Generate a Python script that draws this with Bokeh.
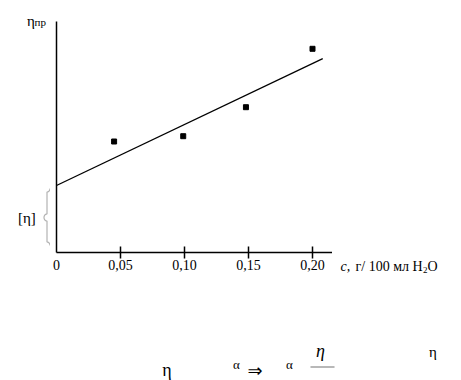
from bokeh.plotting import figure
from bokeh.models import Range1d, LinearAxis, FixedTicker, Label, PolyAnnotation
from bokeh.layouts import row, column
from bokeh.embed import file_html
from bokeh.resources import INLINE
import numpy as np

# ---- data ----
conc = [0.045, 0.099, 0.148, 0.200]        # c, g / 100 ml H2O
eta_red = [1.11, 1.163, 1.453, 2.037]      # reduced viscosity (arbitrary units)
tick_values = [0.0, 0.05, 0.10, 0.15, 0.20]
tick_labels = ["0", "0,05", "0,10", "0,15", "0,20"]
fit_intercept = 0.67                        # [eta]
fit_slope = 6.1
fit_c_end = 0.208

SERIF = "Liberation Serif"

# canvas geometry (pixels)
LW = 50          # left strip width
TOP_H = 280      # height of the upper row
FL, FT, FR, FB = 56, 21, 332, 252   # main frame edges on page
PX_X = 1280.0
PX_Y = 100.0
LBL_DY = -4.5    # text baseline correction


def bare(width, height, xr, yr):
    f = figure(width=width, height=height, output_backend="svg",
               toolbar_location=None, x_range=xr, y_range=yr,
               x_axis_type=None, y_axis_type=None,
               min_border_left=0, min_border_right=0,
               min_border_top=0, min_border_bottom=0)
    f.frame_align = False
    f.outline_line_color = None
    f.xgrid.visible = False
    f.ygrid.visible = False
    f.background_fill_color = "white"
    f.border_fill_color = "white"
    return f


def lab(f, text, x, y, size, align="left", style="normal", font=SERIF):
    f.add_layout(Label(x=x, y=y + LBL_DY, text=text, text_font=font,
                       text_font_size=f"{size}px", text_align=align,
                       text_baseline="alphabetic", text_font_style=style,
                       text_color="black"))


# ---------------- main plot ----------------
MW = FR - LW
p = figure(width=MW, height=TOP_H, output_backend="svg", toolbar_location=None,
           x_range=Range1d(0, (FR - FL) / PX_X),
           y_range=Range1d(0, (FB - FT) / PX_Y),
           x_axis_type=None, y_axis_type=None,
           min_border_left=FL - LW, min_border_top=FT,
           min_border_right=0, min_border_bottom=TOP_H - FB)
p.frame_align = False
p.outline_line_color = None
p.xgrid.visible = False
p.ygrid.visible = False
p.background_fill_color = "white"
p.border_fill_color = "white"

xaxis = LinearAxis(ticker=FixedTicker(ticks=tick_values, minor_ticks=tick_values[1:]),
                   major_label_overrides={v: l for v, l in zip(tick_values, tick_labels)})
xaxis.axis_line_width = 1.5
xaxis.axis_line_color = "black"
xaxis.major_tick_line_color = None
xaxis.major_tick_in = 0
xaxis.major_tick_out = 6
xaxis.minor_tick_in = 6
xaxis.minor_tick_out = 6
xaxis.minor_tick_line_width = 1.5
xaxis.minor_tick_line_color = "black"
xaxis.major_label_standoff = 1
xaxis.major_label_text_font = SERIF
xaxis.major_label_text_font_size = "14px"
xaxis.major_label_text_color = "black"
p.add_layout(xaxis, "below")

yaxis = LinearAxis(ticker=FixedTicker(ticks=[]))
yaxis.axis_line_width = 1.5
yaxis.axis_line_color = "black"
yaxis.major_tick_line_color = None
yaxis.minor_tick_line_color = None
yaxis.major_tick_in = 0
yaxis.major_tick_out = 0
yaxis.major_label_standoff = 0
yaxis.major_label_text_font_size = "0px"
p.add_layout(yaxis, "left")

p.line([0.0, fit_c_end], [fit_intercept, fit_intercept + fit_slope * fit_c_end],
       line_color="black", line_width=1.3)
p.scatter(conc, eta_red, marker="square", size=5, color="black")

# ---------------- left strip ----------------
L = bare(LW, TOP_H, Range1d(0, LW), Range1d(TOP_H, 0))
lab(L, "η", 26.5, 24.5, 15)
lab(L, "пр", 34, 25.5, 11)
lab(L, "[η]", 17.5, 222, 15)


def brace_path(xr, xm, xl, yt, ymid, yb, r=3.5, n=8):
    t = np.linspace(0, np.pi / 2, n)
    pts = [(xm + (xr - xm) * np.cos(a), yt + r * np.sin(a)) for a in t]
    pts.append((xm, ymid - r))
    pts += [(xm - (xm - xl) * np.sin(a), ymid - r * np.cos(a)) for a in t]
    pts += [(xm - (xm - xl) * np.sin(a), ymid + r * np.cos(a)) for a in t[::-1]]
    pts.append((xm, yb - r))
    pts += [(xm + (xr - xm) * np.cos(a), yb - r * np.sin(a)) for a in t[::-1]]
    return pts


bp = brace_path(49.5, 46.5, 43.5, 188, 217, 245)
bxs = [x for x, y in bp] + [x for x, y in bp[::-1]]
bys = [y for x, y in bp] + [y for x, y in bp[::-1]]
L.add_layout(PolyAnnotation(xs=bxs, ys=bys, fill_alpha=0, line_color="black",
                            line_width=1.2))

# ---------------- right strip (x axis title) ----------------
RW = 461 - FR
R = bare(RW, TOP_H, Range1d(FR, 461), Range1d(TOP_H, 0))
lab(R, "c,", 340, 270.5, 14, style="italic")
lab(R, "г/ 100 мл H", 355, 270.5, 14)
lab(R, "2", 422.5, 273.5, 9)
lab(R, "O", 427, 270.5, 14)

# ---------------- bottom strip (formula fragments) ----------------
B = bare(461, 380 - TOP_H, Range1d(0, 461), Range1d(380, TOP_H))
lab(B, "η", 166.5, 374, 18, align="center")
lab(B, "α", 236, 368, 13, align="center")
lab(B, "⇒", 254.5, 374.5, 18, align="center", font="DejaVu Sans")
lab(B, "α", 289, 368, 13, align="center")
lab(B, "η", 320, 354.5, 18, align="center", style="italic")
B.add_layout(PolyAnnotation(xs=[310, 334, 334, 310], ys=[366.5, 366.5, 366.5, 366.5],
                            fill_alpha=0, line_color="black", line_width=1))
lab(B, "η", 432.5, 355.5, 15, align="center")

layout = column(row(L, p, R), B)
open("out.html", "w").write(file_html(layout, INLINE))
